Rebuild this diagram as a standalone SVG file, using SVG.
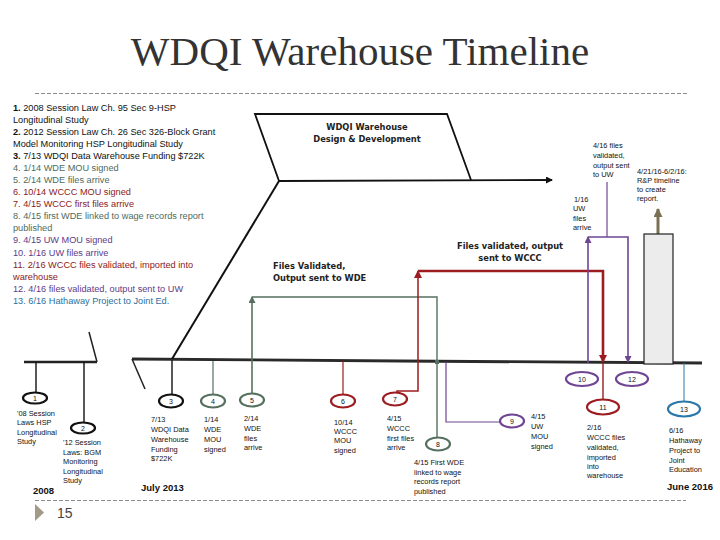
<svg xmlns="http://www.w3.org/2000/svg" width="720" height="540" viewBox="0 0 720 540">
<style>
.lst{font-family:"Liberation Sans",Arial,sans-serif;font-size:9.2px}
.lb{font-family:"Liberation Sans",Arial,sans-serif;font-size:7.4px;fill:#111}
.num{font-family:"Liberation Sans",Arial,sans-serif;font-size:7px;fill:#111;text-anchor:middle}
.hd{font-family:"DejaVu Sans",Verdana,sans-serif;font-size:8.3px;font-weight:bold;fill:#222}
.yr{font-family:"Liberation Sans",Arial,sans-serif;font-size:9.5px;font-weight:bold;fill:#111}
.k{fill:#111}.g{fill:#4e6b5c}.r{fill:#8b1a1a}.p{fill:#5e3a87}.b{fill:#2a6fa0}
.ell{fill:#fff;stroke-width:2.2}
.dash{stroke:#8c8c8c;stroke-width:1.2;stroke-dasharray:4 2;fill:none}
</style>
<defs>
<marker id="aK" markerWidth="7" markerHeight="7" refX="6" refY="3.5" orient="auto" markerUnits="userSpaceOnUse"><path d="M0,0 L7,3.5 L0,7 z" fill="#111"/></marker>
<marker id="aG" markerWidth="7" markerHeight="7" refX="6" refY="3.5" orient="auto" markerUnits="userSpaceOnUse"><path d="M0,0 L7,3.5 L0,7 z" fill="#56705f"/></marker>
<marker id="aR" markerWidth="8" markerHeight="8" refX="7" refY="4" orient="auto" markerUnits="userSpaceOnUse"><path d="M0,0 L8,4 L0,8 z" fill="#9c1c1f"/></marker>
<marker id="aP" markerWidth="7" markerHeight="7" refX="6" refY="3.5" orient="auto" markerUnits="userSpaceOnUse"><path d="M0,0 L7,3.5 L0,7 z" fill="#6f4593"/></marker>
<marker id="aO" markerWidth="9" markerHeight="9" refX="8" refY="4.5" orient="auto" markerUnits="userSpaceOnUse"><path d="M0,0 L9,4.5 L0,9 z" fill="#7a7152"/></marker>
</defs>
<rect width="720" height="540" fill="#fff"/>
<text x="360" y="65" text-anchor="middle" font-family="'Liberation Serif','Times New Roman',serif" font-size="41" fill="#333">WDQI Warehouse Timeline</text>
<line class="dash" x1="35" y1="93.5" x2="688" y2="93.5"/>
<line class="dash" x1="35" y1="500.5" x2="686" y2="500.5"/>
<polygon points="35,504 44,512.5 35,521" fill="#a09a86"/>
<text x="57" y="518" font-family="'Liberation Sans',Arial,sans-serif" font-size="14" fill="#444">15</text>

<g id="list" class="lst">
<text x="13" y="110.5" class="k"><tspan font-weight="bold">1.</tspan> 2008 Session Law Ch. 95 Sec 9-HSP</text>
<text x="13" y="122.6" class="k">Longitudinal Study</text>
<text x="13" y="134.7" class="k"><tspan font-weight="bold">2.</tspan> 2012 Session Law Ch. 26 Sec 326-Block Grant</text>
<text x="13" y="146.7" class="k">Model Monitoring HSP Longitudinal Study</text>
<text x="13" y="158.8" class="k"><tspan font-weight="bold">3.</tspan> 7/13 WDQI Data Warehouse Funding $722K</text>
<text x="13" y="170.9" class="g">4. 1/14 WDE MOU signed</text>
<text x="13" y="183.0" class="g">5. 2/14 WDE files arrive</text>
<text x="13" y="195.1" class="r">6. 10/14 WCCC MOU signed</text>
<text x="13" y="207.1" class="r">7. 4/15 WCCC first files arrive</text>
<text x="13" y="219.2" class="g">8. 4/15 first WDE linked to wage records report</text>
<text x="13" y="231.3" class="g">published</text>
<text x="13" y="243.4" class="p">9. 4/15 UW MOU signed</text>
<text x="13" y="255.5" class="p">10. 1/16 UW files arrive</text>
<text x="13" y="267.5" class="r">11. 2/16 WCCC files validated, imported into</text>
<text x="13" y="279.6" class="r">warehouse</text>
<text x="13" y="291.7" class="p">12. 4/16 files validated, output sent to UW</text>
<text x="13" y="303.8" class="b">13. 6/16 Hathaway Project to Joint Ed.</text>
</g>

<g id="connectors" fill="none">
<line x1="24" y1="362" x2="97" y2="362" stroke="#222" stroke-width="2.5"/>
<line x1="97" y1="362" x2="89" y2="332" stroke="#222" stroke-width="1.5"/>
<polyline points="132,359 400,361 702,363" stroke="#2a2a2a" stroke-width="2.8"/>
<line x1="132" y1="359" x2="145" y2="389" stroke="#222" stroke-width="1.5"/>
<line x1="36" y1="362" x2="36" y2="392.5" stroke="#111" stroke-width="1.4"/>
<line x1="84" y1="362" x2="84" y2="422.5" stroke="#111" stroke-width="1.4"/>
<line x1="172" y1="360" x2="172" y2="394.5" stroke="#111" stroke-width="1.4"/>
<line x1="172" y1="359" x2="279" y2="181" stroke="#111" stroke-width="2"/>
<polyline points="279,181 255,114 447,114 471,180" stroke="#111" stroke-width="1.8"/>
<line x1="279" y1="181" x2="552" y2="180" stroke="#111" stroke-width="1.8" marker-end="url(#aK)"/>
<line x1="213" y1="361" x2="213" y2="394.5" stroke="#56705f" stroke-width="1.2"/>
<line x1="252" y1="393.5" x2="252" y2="297" stroke="#56705f" stroke-width="1.6" marker-end="url(#aG)"/>
<polyline points="252,297 437,297 437,437.5" stroke="#56705f" stroke-width="1.4"/>
<rect x="435" y="360" width="4" height="4" fill="#56705f"/>
<line x1="343" y1="361" x2="343" y2="394.5" stroke="#9c1c1f" stroke-width="1.2"/>
<polyline points="397,392.5 397,391 418,391 418,271" stroke="#9c1c1f" stroke-width="1.5" marker-end="url(#aR)"/>
<polyline points="418,271 603,271 603,362" stroke="#9c1c1f" stroke-width="2.6" marker-end="url(#aR)"/>
<line x1="603" y1="363" x2="603" y2="399.5" stroke="#9c1c1f" stroke-width="1.4"/>
<polyline points="446,362 446,422 500,422" stroke="#6f4593" stroke-width="1.2"/>
<line x1="588" y1="363" x2="588" y2="237" stroke="#6f4593" stroke-width="1.6" marker-end="url(#aP)"/>
<polyline points="588,237 628,237 628,362" stroke="#6f4593" stroke-width="1.6" marker-end="url(#aP)"/>
<line x1="607" y1="182" x2="607" y2="237" stroke="#6f4593" stroke-width="1.2"/>
<line x1="684" y1="363" x2="684" y2="401.5" stroke="#2b77aa" stroke-width="1"/>
<line x1="658" y1="234" x2="658" y2="209" stroke="#7a7152" stroke-width="3" marker-end="url(#aO)"/>
</g>

<g id="box"><rect x="644" y="234" width="29" height="130" fill="#ececec" stroke="#222" stroke-width="1.2"/></g>

<g id="design">
<text x="367" y="130" text-anchor="middle" class="hd">WDQI Warehouse</text>
<text x="367" y="142" text-anchor="middle" class="hd">Design &amp; Development</text>
</g>
<g id="wde-label">
<text x="273" y="269" class="hd">Files Validated,</text>
<text x="273" y="281" class="hd">Output sent to WDE</text>
</g>
<g id="wccc-label">
<text x="510" y="249" text-anchor="middle" class="hd">Files validated, output</text>
<text x="510" y="261" text-anchor="middle" class="hd">sent to WCCC</text>
</g>
<g id="uw-out">
<text x="593" y="147.5" class="lb">4/16 files</text>
<text x="593" y="157.5" class="lb">validated,</text>
<text x="593" y="167.5" class="lb">output sent</text>
<text x="593" y="176.5" class="lb">to UW</text>
</g>
<g id="rp">
<text x="637" y="173.5" class="lb">4/21/16-6/2/16:</text>
<text x="637" y="182.5" class="lb">R&amp;P timeline</text>
<text x="637" y="191.5" class="lb">to create</text>
<text x="637" y="200.5" class="lb">report.</text>
</g>
<g id="uw-arrive">
<text x="574" y="201.5" class="lb">1/16</text>
<text x="573" y="210.5" class="lb">UW</text>
<text x="573" y="220.5" class="lb">files</text>
<text x="573" y="229.5" class="lb">arrive</text>
</g>

<g id="n1"><ellipse class="ell" cx="35" cy="398" rx="12" ry="5.5" stroke="#111"/><text class="num" x="35" y="400.5">1</text>
<text class="lb" x="17" y="415.5">'08 Session</text><text class="lb" x="17" y="425">Laws HSP</text><text class="lb" x="17" y="434.5">Longitudinal</text><text class="lb" x="17" y="444">Study</text></g>
<g id="n2"><ellipse class="ell" cx="83" cy="428" rx="12" ry="5.5" stroke="#111"/><text class="num" x="83" y="430.5">2</text>
<text class="lb" x="63" y="444.5">'12 Session</text><text class="lb" x="63" y="454.5">Laws: BGM</text><text class="lb" x="63" y="464">Monitoring</text><text class="lb" x="63" y="473.5">Longitudinal</text><text class="lb" x="63" y="482.5">Study</text></g>
<text class="yr" x="33" y="494">2008</text>
<g id="n3"><ellipse class="ell" cx="171" cy="401" rx="12" ry="6.5" stroke="#111"/><text class="num" x="171" y="403.5">3</text>
<text class="lb" x="151" y="421.5">7/13</text><text class="lb" x="151" y="431.5">WDQI Data</text><text class="lb" x="151" y="441.5">Warehouse</text><text class="lb" x="151" y="451.5">Funding</text><text class="lb" x="151" y="460.5">$722K</text></g>
<g id="n4"><ellipse class="ell" cx="213" cy="401" rx="12" ry="6.5" stroke="#56705f"/><text class="num" x="213" y="403.5">4</text>
<text class="lb" x="204" y="421.5">1/14</text><text class="lb" x="204" y="431.5">WDE</text><text class="lb" x="204" y="441.5">MOU</text><text class="lb" x="204" y="452">signed</text></g>
<text class="yr" x="141" y="491">July 2013</text>
<g id="n5"><ellipse class="ell" cx="252" cy="400" rx="12" ry="6.5" stroke="#56705f"/><text class="num" x="252" y="402.5">5</text>
<text class="lb" x="244" y="420.5">2/14</text><text class="lb" x="244" y="430.5">WDE</text><text class="lb" x="244" y="440.5">files</text><text class="lb" x="244" y="449.5">arrive</text></g>
<g id="n6"><ellipse class="ell" cx="343" cy="401" rx="12" ry="6.5" stroke="#9c1c1f"/><text class="num" x="343" y="403.5">6</text>
<text class="lb" x="334" y="424.5">10/14</text><text class="lb" x="334" y="433.5">WCCC</text><text class="lb" x="334" y="442.5">MOU</text><text class="lb" x="334" y="453">signed</text></g>
<g id="n7"><ellipse class="ell" cx="395" cy="399" rx="12" ry="6.5" stroke="#9c1c1f"/><text class="num" x="395" y="401.5">7</text>
<text class="lb" x="387" y="420.5">4/15</text><text class="lb" x="387" y="430.5">WCCC</text><text class="lb" x="387" y="440.5">first files</text><text class="lb" x="387" y="449.5">arrive</text></g>
<g id="n8"><ellipse class="ell" cx="438" cy="444" rx="12" ry="6.5" stroke="#56705f"/><text class="num" x="438" y="446.5">8</text>
<text class="lb" x="414" y="464.5">4/15 First WDE</text><text class="lb" x="414" y="474.5">linked to wage</text><text class="lb" x="414" y="483.5">records report</text><text class="lb" x="414" y="493.5">published</text></g>
<g id="n9"><ellipse class="ell" cx="512" cy="421" rx="12" ry="6.5" stroke="#6f4593"/><text class="num" x="512" y="423.5">9</text>
<text class="lb" x="531" y="418.5">4/15</text><text class="lb" x="531" y="428.5">UW</text><text class="lb" x="531" y="438.5">MOU</text><text class="lb" x="531" y="448.5">signed</text></g>
<g id="n10"><ellipse class="ell" cx="582" cy="379" rx="16" ry="7" stroke="#6f4593"/><text class="num" x="582" y="381.5">10</text></g>
<g id="n11"><ellipse class="ell" cx="603" cy="407" rx="16" ry="7.5" stroke="#9c1c1f"/><text class="num" x="603" y="409.5">11</text>
<text class="lb" x="587" y="429.5">2/16</text><text class="lb" x="587" y="439.5">WCCC files</text><text class="lb" x="587" y="449.5">validated,</text><text class="lb" x="587" y="459.5">imported</text><text class="lb" x="587" y="468.5">into</text><text class="lb" x="587" y="477.5">warehouse</text></g>
<g id="n12"><ellipse class="ell" cx="632" cy="379" rx="16" ry="7" stroke="#6f4593"/><text class="num" x="632" y="381.5">12</text></g>
<g id="n13"><ellipse class="ell" cx="684" cy="409" rx="16" ry="7.5" stroke="#2b77aa"/><text class="num" x="684" y="411.5">13</text>
<text class="lb" x="669" y="432.5">6/16</text><text class="lb" x="669" y="442.5">Hathaway</text><text class="lb" x="669" y="452.5">Project to</text><text class="lb" x="669" y="462.5">Joint</text><text class="lb" x="669" y="471.5">Education</text></g>
<text class="yr" x="667" y="490">June 2016</text>
</svg>
